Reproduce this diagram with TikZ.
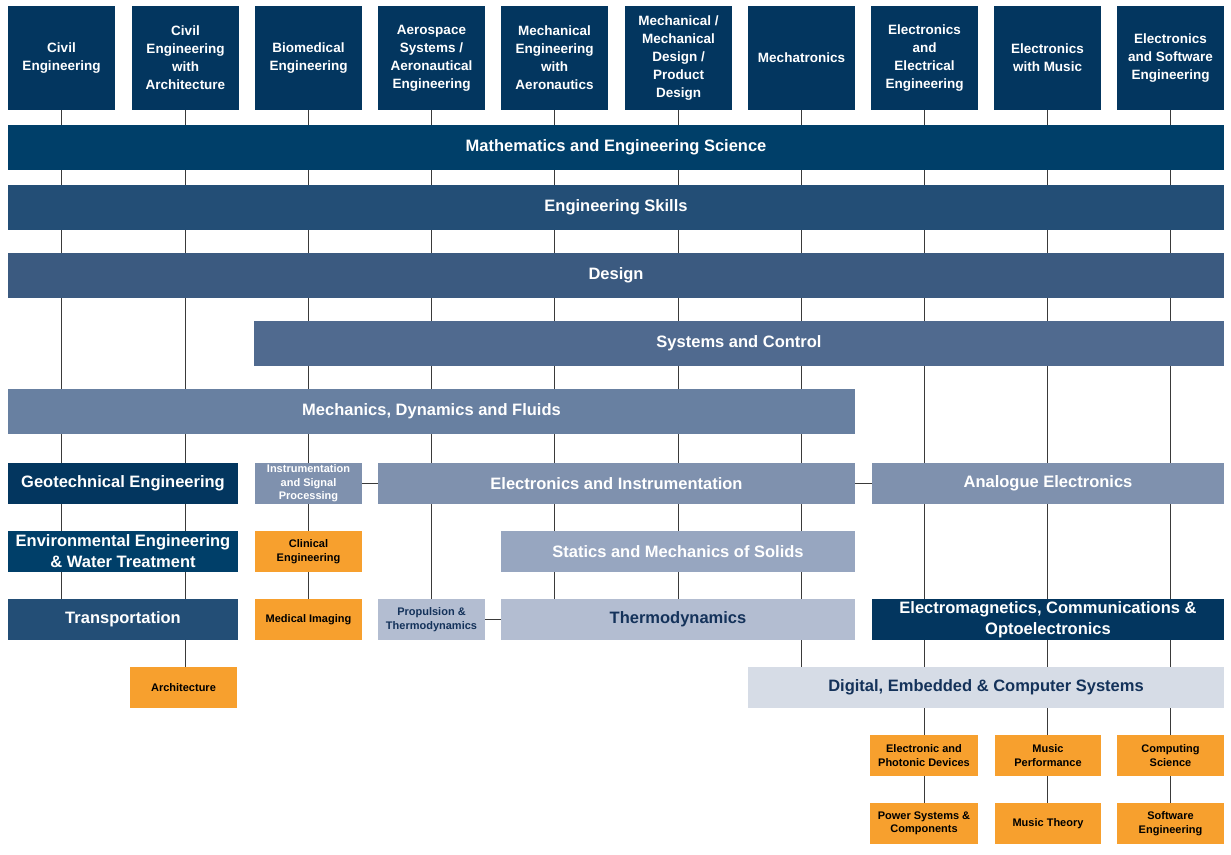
\documentclass[tikz,border=0pt]{standalone}
\usepackage{fontspec}
\setmainfont{Liberation Sans}
\usetikzlibrary{backgrounds}

\definecolor{blunotte}{HTML}{03365F}
\definecolor{blumate}{HTML}{003F69}
\definecolor{bluskill}{HTML}{234E76}
\definecolor{bludesign}{HTML}{3B5A80}
\definecolor{blusys}{HTML}{506A8F}
\definecolor{blumech}{HTML}{6880A1}
\definecolor{bluelec}{HTML}{7F91AE}
\definecolor{blustat}{HTML}{97A6C0}
\definecolor{bluterm}{HTML}{B3BDD1}
\definecolor{bludig}{HTML}{D6DCE6}
\definecolor{testoblu}{HTML}{14325A}
\definecolor{arancio}{HTML}{F7A02E}
\definecolor{grigio}{HTML}{3A3A3A}

\begin{document}
\begin{tikzpicture}[x=1pt,y=-1pt,
    box/.style={rectangle, inner sep=0pt, align=center, text=white},
    corso/.style={box, fill=blunotte, minimum width=107, minimum height=104, font=\bfseries\fontsize{13.5}{18}\selectfont},
    barra/.style={box, minimum height=45, font=\bfseries\fontsize{16.5}{21}\selectfont},
    modulo/.style={box, minimum height=41, font=\bfseries\fontsize{16.5}{21}\selectfont},
    piccolo/.style={box, minimum width=107, minimum height=41, font=\bfseries\fontsize{11}{13.5}\selectfont},
    opzione/.style={piccolo, fill=arancio, text=black},
    linea/.style={draw=grigio, line width=1pt}]
    \useasboundingbox (0,0) rectangle (1231,854);

    % Corsi di laurea
    \node[corso] (t1) at (61.5,58) {Civil\\Engineering};
    \node[corso] (t2) at (185.5,58) {Civil\\Engineering\\with\\Architecture};
    \node[corso] (t3) at (308.5,58) {Biomedical\\Engineering};
    \node[corso] (t4) at (431.5,58) {Aerospace\\Systems /\\Aeronautical\\Engineering};
    \node[corso] (t5) at (554.5,58) {Mechanical\\Engineering\\with\\Aeronautics};
    \node[corso] (t6) at (678.5,58) {Mechanical /\\Mechanical\\Design /\\Product\\Design};
    \node[corso] (t7) at (801.5,58) {Mechatronics};
    \node[corso] (t8) at (924.5,58) {Electronics\\and\\Electrical\\Engineering};
    \node[corso] (t9) at (1047.5,58) {Electronics\\with Music};
    \node[corso] (t10) at (1170.5,58) {Electronics\\and Software\\Engineering};

    % Barre comuni
    \node[barra, fill=blumate, minimum width=1216] (maths) at (616,147.5) {Mathematics and Engineering Science};
    \node[barra, fill=bluskill, minimum width=1216] (skills) at (616,207.5) {Engineering Skills};
    \node[barra, fill=bludesign, minimum width=1216] (design) at (616,275.5) {Design};
    \node[barra, fill=blusys, minimum width=970] (syscon) at (739,343.5) {Systems and Control};
    \node[barra, fill=blumech, minimum width=847] (mech) at (431.5,411.5) {Mechanics, Dynamics and Fluids};

    % Moduli
    \node[modulo, fill=blunotte, minimum width=230] (geo) at (123,483.5) {Geotechnical Engineering};
    \node[piccolo, fill=bluelec] (isp) at (308.5,483.5) {Instrumentation\\and Signal\\Processing};
    \node[modulo, fill=bluelec, minimum width=477] (ei) at (616.5,483.5) {Electronics and Instrumentation};
    \node[modulo, fill=bluelec, minimum width=352] (analog) at (1048,483.5) {Analogue Electronics};

    \node[modulo, fill=blumate, minimum width=230] (env) at (123,551.5) {Environmental Engineering\\\& Water Treatment};
    \node[opzione] (clin) at (308.5,551.5) {Clinical\\Engineering};
    \node[modulo, fill=blustat, minimum width=354] (statics) at (678,551.5) {Statics and Mechanics of Solids};

    \node[modulo, fill=bluskill, minimum width=230] (trans) at (123,619.5) {Transportation};
    \node[opzione] (medimg) at (308.5,619.5) {Medical Imaging};
    \node[piccolo, fill=bluterm, text=testoblu] (prop) at (431.5,619.5) {Propulsion \&\\Thermodynamics};
    \node[modulo, fill=bluterm, text=testoblu, minimum width=354] (thermo) at (678,619.5) {Thermodynamics};
    \node[modulo, fill=blunotte, minimum width=352] (emc) at (1048,619.5) {Electromagnetics, Communications \&\\Optoelectronics};

    \node[opzione] (arch) at (183.5,687.5) {Architecture};
    \node[modulo, fill=bludig, text=testoblu, minimum width=476] (digital) at (986,687.5) {Digital, Embedded \& Computer Systems};

    % Opzioni finali
    \node[opzione, minimum width=108] (epd) at (924,755.5) {Electronic and\\Photonic Devices};
    \node[opzione, minimum width=106] (musperf) at (1048,755.5) {Music\\Performance};
    \node[opzione] (compsci) at (1170.5,755.5) {Computing\\Science};
    \node[opzione, minimum width=108] (power) at (924,823.5) {Power Systems \&\\Components};
    \node[opzione, minimum width=106] (mustheory) at (1048,823.5) {Music Theory};
    \node[opzione] (softeng) at (1170.5,823.5) {Software\\Engineering};

    % Linee di collegamento (dietro i riquadri)
    \begin{scope}[on background layer]
        \fill[white] (0,0) rectangle (1231,854);
        \draw[linea] (t1.south) -- (t1.south |- trans.north);
        \draw[linea] (t2.south) -- (t2.south |- arch.north);
        \draw[linea] (t3.south) -- (t3.south |- medimg.north);
        \draw[linea] (t4.south) -- (t4.south |- prop.north);
        \draw[linea] (t5.south) -- (t5.south |- thermo.north);
        \draw[linea] (t6.south) -- (t6.south |- thermo.north);
        \draw[linea] (t7.south) -- (t7.south |- digital.north);
        \draw[linea] (t8.south) -- (t8.south |- power.north);
        \draw[linea] (t9.south) -- (t9.south |- mustheory.north);
        \draw[linea] (t10.south) -- (t10.south |- softeng.north);
        \draw[linea] (isp.east) -- (ei.west);
        \draw[linea] (ei.east) -- (analog.west);
        \draw[linea] (prop.east) -- (thermo.west);
    \end{scope}
\end{tikzpicture}
\end{document}
